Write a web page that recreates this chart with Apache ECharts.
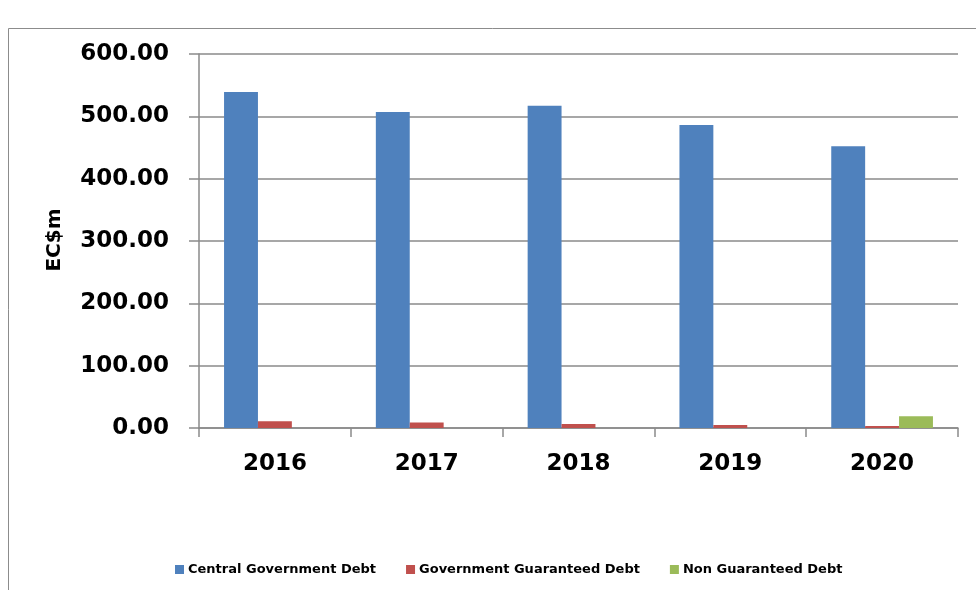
<!DOCTYPE html>
<html>
<head>
<meta charset="utf-8">
<title>Public Debt</title>
<script src="https://cdn.jsdelivr.net/npm/echarts@6/dist/echarts.min.js"></script>
<style>
  html, body { margin: 0; padding: 0; background: #ffffff; }
  #chart { width: 976px; height: 590px; }
</style>
</head>
<body>
<div id="chart"></div>
<script>
// Debt stock by category, EC$ millions
const years = ['2016', '2017', '2018', '2019', '2020'];
const centralGovernmentDebt = [539, 507, 517, 486, 452];
const governmentGuaranteedDebt = [11, 8.8, 6.6, 5, 3.3];
const nonGuaranteedDebt = [0, 0, 0, 0, 18.7];
const yTicks = { min: 0, max: 600, interval: 100 };

const axisGray = '#8a8a8a';
const labelFont = 'DejaVu Sans';

const chart = echarts.init(document.getElementById('chart'), null, { renderer: 'canvas' });

chart.setOption({
  backgroundColor: '#ffffff',
  animation: false,
  graphic: [
    {
      type: 'rect',
      shape: { x: 8.5, y: 28.5, width: 1000, height: 700 },
      style: { fill: 'none', stroke: '#8c8c8c', lineWidth: 1 },
      silent: true
    },
    {
      type: 'text',
      x: 55,
      y: 240,
      rotation: Math.PI / 2,
      style: {
        text: 'EC$m',
        font: 'bold 20px "DejaVu Sans"',
        fill: '#000000',
        align: 'center',
        verticalAlign: 'middle'
      }
    }
  ],
  legend: {
    left: 170,
    top: 558,
    itemWidth: 9,
    itemHeight: 9,
    itemGap: 30,
    icon: 'rect',
    textStyle: {
      fontFamily: labelFont,
      fontWeight: 'bold',
      fontSize: 13,
      color: '#000000',
      padding: [0, 0, 0, -1]
    },
    data: ['Central Government Debt', 'Government Guaranteed Debt', 'Non Guaranteed Debt']
  },
  grid: {
    left: 199,
    right: 18,
    top: 54,
    bottom: 162,
    containLabel: false
  },
  xAxis: {
    type: 'category',
    data: years,
    axisLine: { show: true, lineStyle: { color: axisGray, width: 1.5 } },
    axisTick: { show: true, length: 9, lineStyle: { color: axisGray, width: 1.5 } },
    axisLabel: {
      margin: 25,
      color: '#000000',
      fontFamily: labelFont,
      fontWeight: 'bold',
      fontSize: 23
    },
    splitLine: { show: false }
  },
  yAxis: {
    type: 'value',
    min: yTicks.min,
    max: yTicks.max,
    interval: yTicks.interval,
    axisLine: { show: true, lineStyle: { color: axisGray, width: 1.5 } },
    axisTick: { show: true, length: 10, lineStyle: { color: axisGray, width: 1.5 } },
    axisLabel: {
      margin: 30,
      color: '#000000',
      fontFamily: labelFont,
      fontWeight: 'bold',
      fontSize: 23,
      formatter: v => v.toFixed(2)
    },
    splitLine: { show: true, lineStyle: { color: axisGray, width: 1.5 } }
  },
  series: [
    {
      name: 'Central Government Debt',
      type: 'bar',
      data: centralGovernmentDebt,
      itemStyle: { color: '#4F81BD' },
      barGap: '0%',
      barCategoryGap: '33%'
    },
    {
      name: 'Government Guaranteed Debt',
      type: 'bar',
      data: governmentGuaranteedDebt,
      itemStyle: { color: '#C0504D' }
    },
    {
      name: 'Non Guaranteed Debt',
      type: 'bar',
      data: nonGuaranteedDebt,
      itemStyle: { color: '#9BBB59' }
    }
  ]
});
</script>
</body>
</html>
